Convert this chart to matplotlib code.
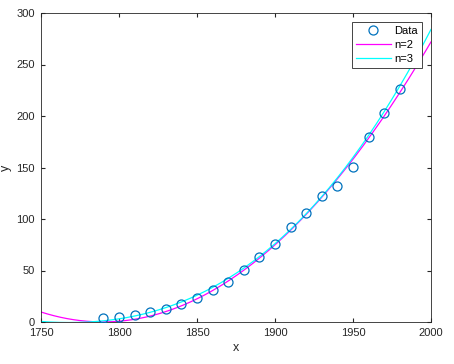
import numpy as np
import matplotlib
matplotlib.use("Agg")
import matplotlib.pyplot as plt

years = [1790, 1800, 1810, 1820, 1830, 1840, 1850, 1860, 1870, 1880, 1890,
         1900, 1910, 1920, 1930, 1940, 1950, 1960, 1970, 1980]
pop = [3.9, 5.3, 7.2, 9.6, 12.9, 17.1, 23.1, 31.4, 38.6, 50.2, 62.9,
       76.0, 92.0, 105.7, 122.8, 131.7, 150.7, 179.3, 203.2, 226.5]
# fitted polynomial coefficients (in s = (x-1750)/50), highest power first
coef_n2 = [15.35, -24.3, 9.7]
coef_n3 = [1.117, 6.833, -5.38, 0.5]
xticks = [1750, 1800, 1850, 1900, 1950, 2000]
yticks = [0, 50, 100, 150, 200, 250, 300]

plt.rcParams['font.family'] = ['Liberation Sans', 'DejaVu Sans']
fig = plt.figure(figsize=(4.54, 3.64), dpi=100)
ax = fig.add_axes([41/454, 1-322/364, 390/454, 309/364])

xx = np.linspace(1750, 2000, 300)
ss = (xx - 1750) / 50

ax.plot(years, pop, 'o', mfc='none', mec='#0072BD', ms=6.5, mew=0.9, label='Data', zorder=3)
ax.plot(xx, np.polyval(coef_n2, ss), color='#FF00FF', lw=0.9, label='n=2')
ax.plot(xx, np.polyval(coef_n3, ss), color='#00FFFF', lw=0.9, label='n=3')

ax.set_xlim(1750, 2000)
ax.set_ylim(0, 300)
ax.set_xticks(xticks)
ax.set_yticks(yticks)
ax.tick_params(direction='in', length=3, labelsize=8, colors='#262626', top=True, right=True, pad=4.5)
for s in ax.spines.values():
    s.set_color('#262626')
    s.set_linewidth(0.6)
ax.set_xlabel('x', fontsize=9, color='#262626', labelpad=3)
ax.set_ylabel('y', fontsize=9, color='#262626', labelpad=3)
leg = ax.legend(loc='upper right', fontsize=8, frameon=True, fancybox=False,
                edgecolor='#262626', framealpha=1, borderpad=0.35, borderaxespad=0.8,
                handlelength=3.2, handletextpad=0.3, labelspacing=0.38)
leg.get_frame().set_linewidth(0.6)
leg.set_zorder(5)
fig.savefig('out.png', dpi=100)
